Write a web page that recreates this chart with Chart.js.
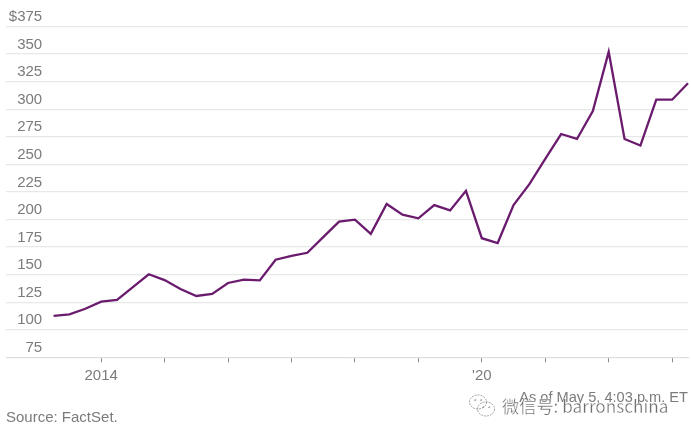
<!DOCTYPE html>
<html><head><meta charset="utf-8">
<style>
html,body{margin:0;padding:0;background:#fff;width:691px;height:437px;overflow:hidden}
#c{position:absolute;left:0;top:0}
.t{position:absolute;font:15px "Liberation Sans",Arial,sans-serif;color:#7b7b7b;white-space:nowrap;line-height:18px}
</style>
<script src="https://cdn.jsdelivr.net/npm/chart.js@4"></script>
</head><body>
<canvas id="c" width="691" height="437"></canvas>
<div class="t" style="right:3px;top:388px;font-size:14.6px" id="asof">As of May 5, 4:03 p.m. ET</div>
<div class="t" style="left:6px;top:408px">Source: FactSet.</div>
<svg style="position:absolute;left:468px;top:393px" width="30" height="26" fill="none" stroke="#8a8a8a" stroke-width="0.8" stroke-dasharray="2 1">
<ellipse cx="10" cy="9" rx="8.5" ry="7"/><ellipse cx="18" cy="16" rx="8.5" ry="7"/>
<circle cx="7" cy="7" r="0.8"/><circle cx="13" cy="7" r="0.8"/><circle cx="15" cy="14" r="0.7"/><circle cx="21" cy="14" r="0.7"/>
</svg>
<div class="t" style="left:502px;top:397px;color:#6f6f6f;font-size:17.2px;font-family:'Noto Sans CJK SC',sans-serif;-webkit-text-stroke:0.3px #fff">微信号: barronschina</div>
<script>
const periods=[2013.25,2013.5,2013.75,2014,2014.25,2014.5,2014.75,2015,2015.25,2015.5,2015.75,2016,2016.25,2016.5,2016.75,2017,2017.25,2017.5,2017.75,2018,2018.25,2018.5,2018.75,2019,2019.25,2019.5,2019.75,2020,2020.25,2020.5,2020.75,2021,2021.25,2021.5,2021.75,2022,2022.25,2022.5,2022.75,2023,2023.25];
const prices=[112.5,114,119,125.4,127,138.7,150.3,145,137,130.6,132.4,142.4,145.4,144.8,163.5,167,169.8,184,198,199.8,187,214,204.3,201,213,208.2,226,183,178.6,213,232,255,277.5,273,298.4,352,273,267,308.6,308.6,323.5];
const tickYears=[2014,2015,2016,2017,2018,2019,2020,2021,2022,2023];
const tickNames=['2014','','','','','',"'20",'','',''];
const yTicks=[75,100,125,150,175,200,225,250,275,300,325,350,375];
new Chart(document.getElementById('c'),{
 type:'line',
 data:{datasets:[{data:periods.map((p,i)=>({x:p,y:prices[i]})),borderColor:'#6a1b6e',borderWidth:2.3,pointRadius:0,tension:0,fill:false,borderJoinStyle:'miter',clip:false}]},
 options:{
  responsive:false,animation:false,devicePixelRatio:1,
  layout:{padding:{left:6,right:3,top:26.5,bottom:39.7}},
  plugins:{legend:{display:false},tooltip:{enabled:false},title:{display:false}},
  scales:{
   x:{type:'linear',position:'bottom',min:2012.5,max:2023.25,
    afterBuildTicks(s){s.ticks=tickYears.map(v=>({value:v}));},
    afterFit(s){s.height=40;},
    grid:{drawOnChartArea:false,drawTicks:true,tickLength:5,tickColor:'#8a8a8a'},
    border:{color:'#dcdcdc',width:1},
    ticks:{autoSkip:false,maxRotation:0,minRotation:0,padding:5,color:'#7b7b7b',font:{family:'Liberation Sans',size:15},
     callback(v){const i=tickYears.indexOf(v);return i<0?'':tickNames[i];}}
   },
   y:{type:'linear',position:{x:2013.07},min:75,max:375,
    afterBuildTicks(s){s.ticks=yTicks.map(v=>({value:v}));},
    grid:{color:'#e8e8e8',lineWidth:1.2,drawTicks:false},
    border:{display:false},
    ticks:{padding:0,labelOffset:-9.5,color:'#7b7b7b',font:{family:'Liberation Sans',size:15},autoSkip:false,
     callback(v){return v===375?'$375':String(v);}}
   }
  }
 }
});
</script>
</body></html>
